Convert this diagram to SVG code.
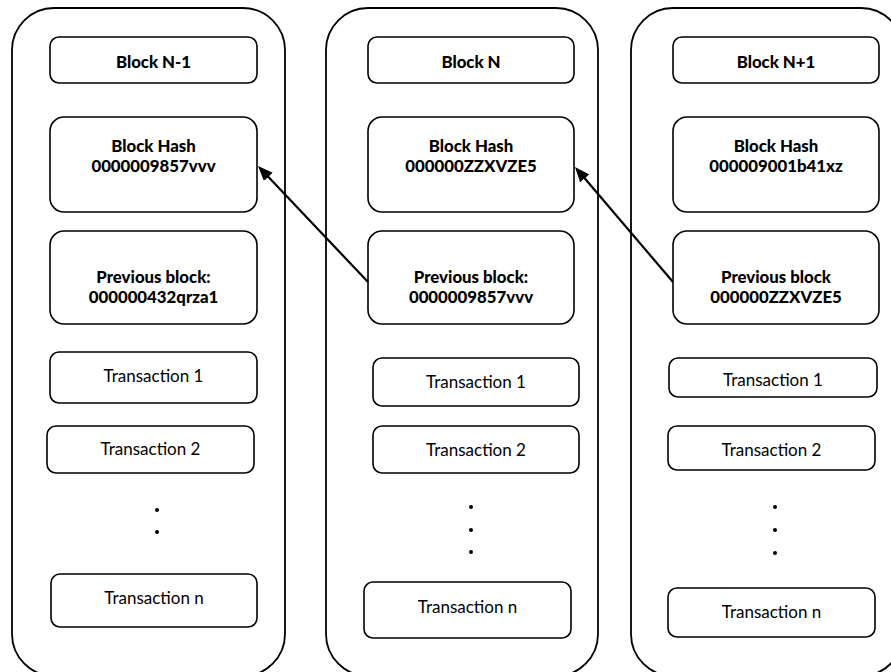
<svg xmlns="http://www.w3.org/2000/svg" width="891" height="672" viewBox="0 0 891 672">
  <style>
    .chain { fill: #fff; stroke: #000; stroke-width: 1.8; }
    .box { fill: #fff; stroke: #000; stroke-width: 1.6; }
    .hdr { font-family: Lato, "Open Sans", sans-serif; font-weight: 900; font-size: 16.8px; text-anchor: middle; fill: #000; }
    .tx { font-family: Lato, "Open Sans", sans-serif; font-size: 17px; text-anchor: middle; fill: #000; }
    .dot { fill: #000; }
    .link { stroke: #000; stroke-width: 2.2; fill: none; marker-end: url(#head); }
  </style>
  <defs>
    <marker id="head" markerUnits="userSpaceOnUse" markerWidth="18" markerHeight="14" refX="6" refY="6" orient="auto">
      <path d="M0,0 L15,6 L0,12 z" fill="#000"/>
    </marker>
  </defs>
  <rect width="891" height="672" fill="#fff"/>

  <!-- Block N-1 -->
  <g id="block-n-minus-1">
    <rect class="chain" x="12" y="8" width="273" height="668" rx="42" ry="42"/>
    <rect class="box" x="50" y="37" width="207" height="46" rx="9"/>
    <text class="hdr" x="153.5" y="68">Block N-1</text>
    <rect class="box" x="50" y="117" width="207" height="95" rx="14"/>
    <text class="hdr" x="153.5" y="152">Block Hash</text>
    <text class="hdr" x="153.5" y="172">0000009857vvv</text>
    <rect class="box" x="50" y="231" width="207" height="93" rx="14"/>
    <text class="hdr" x="153.5" y="283">Previous block:</text>
    <text class="hdr" x="153.5" y="303">000000432qrza1</text>
    <rect class="box" x="50" y="352" width="207" height="51" rx="9"/>
    <text class="tx" x="153.5" y="382">Transaction 1</text>
    <rect class="box" x="47" y="426" width="207" height="47" rx="9"/>
    <text class="tx" x="150.5" y="455">Transaction 2</text>
    <circle class="dot" cx="157" cy="510" r="2"/>
    <circle class="dot" cx="157" cy="532" r="2"/>
    <rect class="box" x="51" y="574" width="206" height="53" rx="9"/>
    <text class="tx" x="154" y="604">Transaction n</text>
  </g>

  <!-- Block N -->
  <g id="block-n">
    <rect class="chain" x="326" y="8" width="272" height="668" rx="42" ry="42"/>
    <rect class="box" x="368" y="37" width="206" height="46" rx="9"/>
    <text class="hdr" x="471" y="68">Block N</text>
    <rect class="box" x="368" y="117" width="206" height="95" rx="14"/>
    <text class="hdr" x="471" y="152">Block Hash</text>
    <text class="hdr" x="471" y="172">000000ZZXVZE5</text>
    <rect class="box" x="368" y="231" width="206" height="93" rx="14"/>
    <text class="hdr" x="471" y="283">Previous block:</text>
    <text class="hdr" x="471" y="303">0000009857vvv</text>
    <rect class="box" x="373" y="358" width="206" height="48" rx="9"/>
    <text class="tx" x="476" y="388">Transaction 1</text>
    <rect class="box" x="373" y="426" width="206" height="47" rx="9"/>
    <text class="tx" x="476" y="456">Transaction 2</text>
    <circle class="dot" cx="471" cy="507" r="2"/>
    <circle class="dot" cx="471" cy="530" r="2"/>
    <circle class="dot" cx="471" cy="552" r="2"/>
    <rect class="box" x="364" y="582" width="207" height="56" rx="9"/>
    <text class="tx" x="467.5" y="613">Transaction n</text>
  </g>

  <!-- Block N+1 -->
  <g id="block-n-plus-1">
    <rect class="chain" x="631" y="8" width="272" height="668" rx="42" ry="42"/>
    <rect class="box" x="673" y="37" width="206" height="46" rx="9"/>
    <text class="hdr" x="776" y="68">Block N+1</text>
    <rect class="box" x="673" y="117" width="206" height="95" rx="14"/>
    <text class="hdr" x="776" y="152">Block Hash</text>
    <text class="hdr" x="776" y="172">000009001b41xz</text>
    <rect class="box" x="673" y="231" width="206" height="93" rx="14"/>
    <text class="hdr" x="776" y="283">Previous block</text>
    <text class="hdr" x="776" y="303">000000ZZXVZE5</text>
    <rect class="box" x="669" y="358" width="208" height="39" rx="9"/>
    <text class="tx" x="773" y="386">Transaction 1</text>
    <rect class="box" x="668" y="426" width="207" height="44" rx="9"/>
    <text class="tx" x="771.5" y="456">Transaction 2</text>
    <circle class="dot" cx="775" cy="507" r="2"/>
    <circle class="dot" cx="775" cy="530" r="2"/>
    <circle class="dot" cx="775" cy="553" r="2"/>
    <rect class="box" x="668" y="588" width="207" height="49" rx="9"/>
    <text class="tx" x="771.5" y="618">Transaction n</text>
  </g>

  <!-- hash links: previous-block field points to the predecessor's hash -->
  <g id="connectors">
    <line class="link" x1="368" y1="282" x2="264.2" y2="172.5"/>
    <line class="link" x1="673" y1="282" x2="580.8" y2="173.8"/>
  </g>
</svg>
